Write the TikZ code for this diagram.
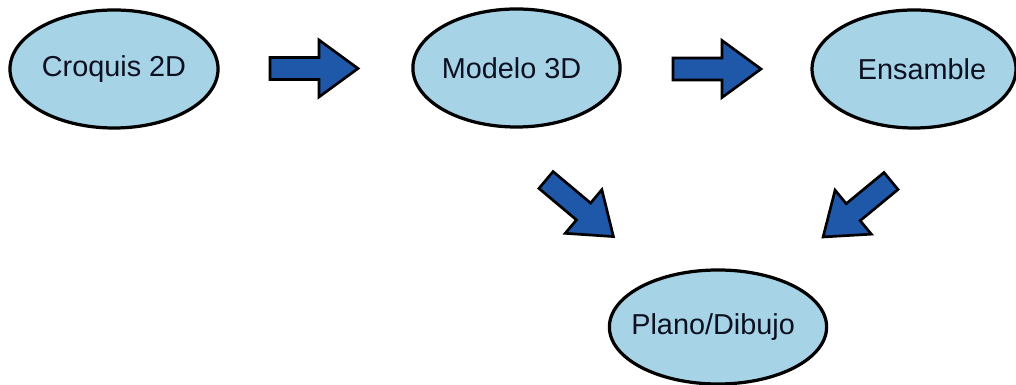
\documentclass[tikz,border=0pt]{standalone}
\usepackage{fontspec}
\setmainfont{Liberation Sans}
\usetikzlibrary{shapes.geometric}
\definecolor{stagefill}{HTML}{A7D3E7}
\definecolor{arrowfill}{HTML}{1F58A8}
\definecolor{stagetext}{HTML}{0C1020}
\tikzset{
  stage/.style={ellipse, draw=black, line width=2.3pt, fill=stagefill,
    text=stagetext, inner sep=0pt, font=\fontsize{20.5}{24}\selectfont},
  arrowbody/.style={draw=black, line width=1.9pt, fill=arrowfill, line join=miter},
  blockarrow/.pic={
    \path[arrowbody] (0,-11) -- (49,-11) -- (49,-28.5) -- (88,0)
      -- (49,28.5) -- (49,11) -- (0,11) -- cycle;
    \coordinate (-tail) at (0,0);
    \coordinate (-tip) at (88,0);
  }
}
\begin{document}
\begin{tikzpicture}[x=0.025cm, y=0.025cm]
  \useasboundingbox (0,0) rectangle (1016,385);
  % process stages
  \node[stage, minimum width=5.2cm, minimum height=2.95cm] (croquis) at (114,316) {Croquis 2D};
  \node[stage, minimum width=5.18cm, minimum height=2.95cm] (modelo) at (516.5,317) {\hspace*{-7pt}Modelo 3D};
  \node[stage, minimum width=5.0cm, minimum height=2.95cm] (ensamble) at (914,316) {\hspace*{11.4pt}Ensamble};
  \node[stage, minimum width=5.2cm, minimum height=2.85cm] (plano) at (718,58) {\hspace*{-7pt}Plano/Dibujo};
  % block arrows between stages
  \pic (a1) at (270,316.5) {blockarrow};
  \pic (a2) at (673,316) {blockarrow};
  \pic[rotate=-40] (a3) at (546,205) {blockarrow};
  \pic[rotate=-140.5] (a4) at (891,204) {blockarrow};
\end{tikzpicture}
\end{document}
